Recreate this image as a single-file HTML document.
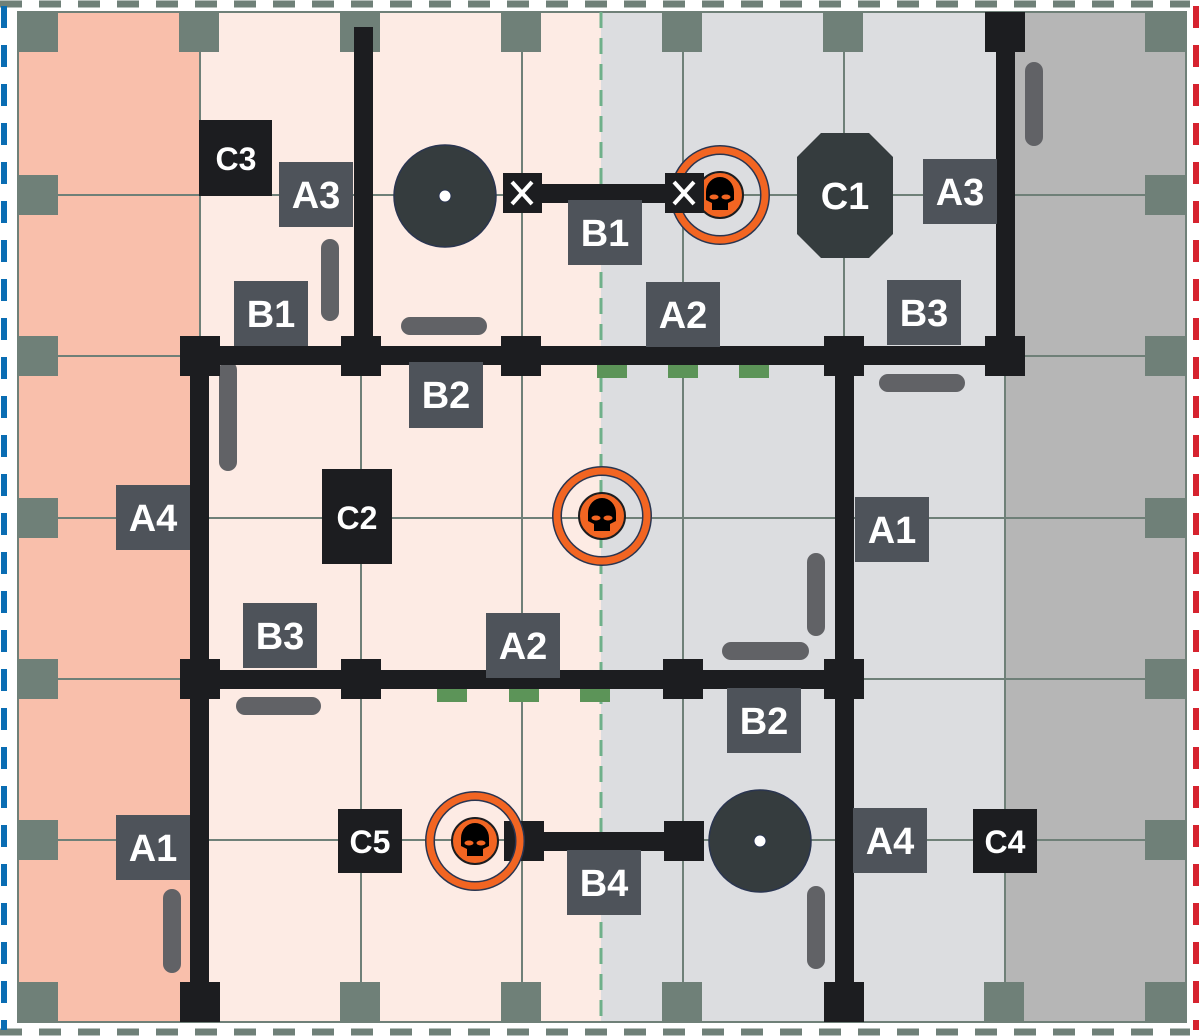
<!DOCTYPE html>
<html><head><meta charset="utf-8"><style>
html,body{margin:0;padding:0;background:#fff;}
svg{display:block;}
text{font-family:"Liberation Sans",sans-serif;font-weight:bold;fill:#fff;text-anchor:middle;dominant-baseline:central;}
</style></head><body>
<svg width="1200" height="1036" viewBox="0 0 1200 1036" xmlns="http://www.w3.org/2000/svg">
<defs>
<g id="skull">
  <circle r="23" fill="#f26522" stroke="#1c1d20" stroke-width="2"/>
  <path d="M-14,-3 A14,15 0 1 1 14,-3 L14,5 L8,8 L8,15 L-8,15 L-8,8 L-14,5 Z" fill="#000"/>
  <ellipse cx="-6" cy="2" rx="4.5" ry="2.5" fill="#f26522"/>
  <ellipse cx="6" cy="2" rx="4.5" ry="2.5" fill="#f26522"/>
</g>
<g id="target">
  <circle r="45" fill="none" stroke="#2a3550" stroke-width="10"/>
  <circle r="45" fill="none" stroke="#f26522" stroke-width="7"/>
  <use href="#skull"/>
</g>
</defs>
<rect x="18" y="12" width="182" height="1010" fill="#f9bfab"/>
<rect x="200" y="12" width="401" height="1010" fill="#fdebe4"/>
<rect x="601" y="12" width="404" height="1010" fill="#dcdde0"/>
<rect x="1005" y="12" width="181" height="1010" fill="#b6b6b6"/>
<g stroke="#6f8078" stroke-width="2" fill="none">
<rect x="18" y="12" width="1168" height="1010"/>
<line x1="200" y1="12" x2="200" y2="1022"/><line x1="361" y1="12" x2="361" y2="1022"/>
<line x1="522" y1="12" x2="522" y2="1022"/><line x1="683" y1="12" x2="683" y2="1022"/>
<line x1="844" y1="12" x2="844" y2="1022"/><line x1="1005" y1="12" x2="1005" y2="1022"/>
<line x1="18" y1="195" x2="1186" y2="195"/><line x1="18" y1="356" x2="1186" y2="356"/>
<line x1="18" y1="518" x2="1186" y2="518"/><line x1="18" y1="679" x2="1186" y2="679"/>
<line x1="18" y1="840" x2="1186" y2="840"/>
</g>
<line x1="601" y1="12" x2="601" y2="1022" stroke="#6fb08a" stroke-width="3" stroke-dasharray="16,10"/>
<g fill="#6f8078">
<rect x="18" y="12" width="40" height="40"/><rect x="179" y="12" width="40" height="40"/><rect x="340" y="12" width="40" height="40"/><rect x="501" y="12" width="40" height="40"/><rect x="662" y="12" width="40" height="40"/><rect x="823" y="12" width="40" height="40"/><rect x="1145" y="12" width="41" height="40"/>
<rect x="18" y="982" width="40" height="40"/><rect x="340" y="982" width="40" height="40"/><rect x="501" y="982" width="40" height="40"/><rect x="662" y="982" width="40" height="40"/><rect x="984" y="982" width="40" height="40"/><rect x="1145" y="982" width="41" height="40"/>
<rect x="18" y="175" width="40" height="40"/><rect x="18" y="336" width="40" height="40"/><rect x="18" y="498" width="40" height="40"/><rect x="18" y="659" width="40" height="40"/><rect x="18" y="820" width="40" height="40"/>
<rect x="1145" y="175" width="41" height="40"/><rect x="1145" y="336" width="41" height="40"/><rect x="1145" y="498" width="41" height="40"/><rect x="1145" y="659" width="41" height="40"/><rect x="1145" y="820" width="41" height="40"/>
</g>
<line x1="0" y1="4" x2="1190" y2="4" stroke="#6f8078" stroke-width="7" stroke-dasharray="22,17"/>
<line x1="0" y1="1032" x2="1190" y2="1032" stroke="#6f8078" stroke-width="7" stroke-dasharray="22,17"/>
<line x1="4" y1="6" x2="4" y2="1030" stroke="#0a6db3" stroke-width="6" stroke-dasharray="22,17"/>
<line x1="1196" y1="6" x2="1196" y2="1030" stroke="#d6232f" stroke-width="6" stroke-dasharray="22,17"/>
<g stroke="#616266" stroke-width="18" stroke-linecap="round">
<line x1="330" y1="248" x2="330" y2="312"/>
<line x1="410" y1="326" x2="478" y2="326"/>
<line x1="228" y1="370" x2="228" y2="462"/>
<line x1="888" y1="383" x2="956" y2="383"/>
<line x1="1034" y1="71" x2="1034" y2="137"/>
<line x1="816" y1="562" x2="816" y2="627"/>
<line x1="731" y1="651" x2="800" y2="651"/>
<line x1="245" y1="706" x2="312" y2="706"/>
<line x1="172" y1="898" x2="172" y2="964"/>
<line x1="816" y1="895" x2="816" y2="960"/>
</g>
<g fill="#5c9458">
<rect x="597" y="363" width="30" height="15"/><rect x="668" y="363" width="30" height="15"/><rect x="739" y="363" width="30" height="15"/>
<rect x="437" y="687" width="30" height="15"/><rect x="509" y="687" width="30" height="15"/><rect x="580" y="687" width="30" height="15"/>
</g>
<g fill="#1c1d20">
<rect x="354" y="27" width="19" height="330"/>
<rect x="996" y="12" width="19" height="345"/>
<rect x="200" y="346" width="805" height="19"/>
<rect x="190" y="356" width="19" height="666"/>
<rect x="835" y="356" width="19" height="666"/>
<rect x="200" y="670" width="644" height="19"/>
<rect x="522" y="184" width="161" height="19"/>
<rect x="522" y="832" width="161" height="19"/>
<rect x="180" y="336" width="40" height="40"/><rect x="341" y="336" width="40" height="40"/><rect x="501" y="336" width="40" height="40"/><rect x="824" y="336" width="40" height="40"/><rect x="985" y="336" width="40" height="40"/>
<rect x="985" y="12" width="40" height="40"/>
<rect x="180" y="659" width="40" height="40"/><rect x="341" y="659" width="40" height="40"/><rect x="663" y="659" width="40" height="40"/><rect x="824" y="659" width="40" height="40"/>
<rect x="180" y="982" width="40" height="40"/><rect x="824" y="982" width="40" height="40"/>
<rect x="504" y="821" width="40" height="40"/><rect x="664" y="821" width="40" height="40"/>
</g>
<circle cx="445" cy="196" r="51" fill="#353c3e" stroke="#2a3550" stroke-width="1.5"/>
<circle cx="445" cy="196" r="6" fill="#fff" stroke="#2a3550"/>
<circle cx="760" cy="841" r="51" fill="#353c3e" stroke="#2a3550" stroke-width="1.5"/>
<circle cx="760" cy="841" r="6" fill="#fff" stroke="#2a3550"/>
<use href="#target" x="720" y="195"/>
<use href="#target" x="602" y="516"/>
<use href="#target" x="475" y="841"/>
<g fill="#1c1d20">
<rect x="503" y="173" width="39" height="40"/><rect x="665" y="173" width="39" height="40"/>
</g>
<g stroke="#fff" stroke-width="4">
<line x1="512" y1="182" x2="532" y2="204"/><line x1="532" y1="182" x2="512" y2="204"/>
<line x1="674" y1="182" x2="694" y2="204"/><line x1="694" y1="182" x2="674" y2="204"/>
</g>
<polygon points="821,133 869,133 893,157 893,234 869,258 821,258 797,234 797,157" fill="#353c3e"/>
<text x="845" y="197" font-size="38">C1</text>
<g fill="#4e535a">
<rect x="279" y="162" width="74" height="65"/>
<rect x="234" y="281" width="74" height="65"/>
<rect x="568" y="200" width="74" height="65"/>
<rect x="646" y="282" width="74" height="65"/>
<rect x="887" y="280" width="74" height="65"/>
<rect x="409" y="362" width="74" height="66"/>
<rect x="116" y="485" width="74" height="65"/>
<rect x="855" y="497" width="74" height="65"/>
<rect x="243" y="603" width="74" height="65"/>
<rect x="486" y="613" width="74" height="65"/>
<rect x="727" y="688" width="74" height="65"/>
<rect x="116" y="815" width="74" height="65"/>
<rect x="567" y="850" width="74" height="65"/>
<rect x="853" y="808" width="74" height="65"/>
<rect x="923" y="159" width="74" height="65"/>
</g>
<g font-size="38">
<text x="316" y="196">A3</text>
<text x="271" y="315">B1</text>
<text x="605" y="234">B1</text>
<text x="683" y="316">A2</text>
<text x="924" y="314">B3</text>
<text x="446" y="396">B2</text>
<text x="153" y="519">A4</text>
<text x="892" y="531">A1</text>
<text x="280" y="637">B3</text>
<text x="523" y="647">A2</text>
<text x="764" y="722">B2</text>
<text x="153" y="849">A1</text>
<text x="604" y="884">B4</text>
<text x="890" y="842">A4</text>
<text x="960" y="193">A3</text>
</g>
<g fill="#1c1d20">
<rect x="199" y="120" width="73" height="76"/>
<rect x="322" y="469" width="70" height="95"/>
<rect x="338" y="809" width="64" height="64"/>
<rect x="973" y="809" width="64" height="64"/>
</g>
<g font-size="32">
<text x="236" y="159">C3</text>
<text x="357" y="518">C2</text>
<text x="370" y="842">C5</text>
<text x="1005" y="842">C4</text>
</g>
</svg>
</body></html>
